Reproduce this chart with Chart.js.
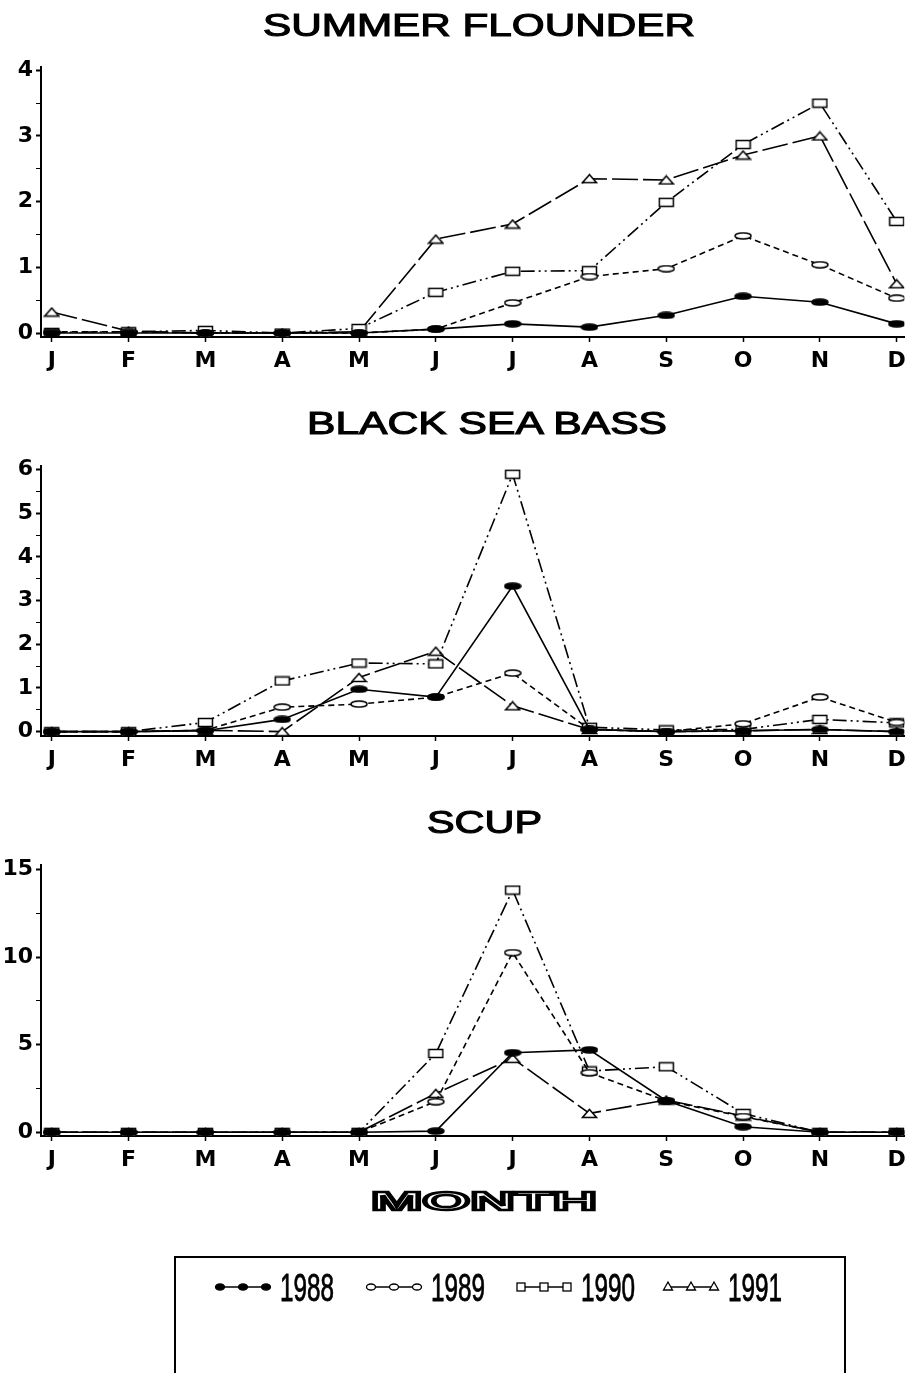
<!DOCTYPE html>
<html>
<head>
<meta charset="utf-8">
<title>Monthly catch by year</title>
<script src="https://cdn.jsdelivr.net/npm/chart.js@4.4.1/dist/chart.umd.min.js"></script>
<style>
  html, body { margin: 0; padding: 0; background: #fff; }
  body { position: relative; width: 914px; height: 1373px; overflow: hidden; }
  .panel { position: absolute; left: 0; }
  #overlay { position: absolute; left: 0; top: 0; }
  .ttl { font-family: "Liberation Sans", Arial, sans-serif; font-size: 31px; fill: #000; stroke: #000; stroke-width: 1.1; }
  .axt { font-family: "Liberation Sans", Arial, sans-serif; font-size: 26px; font-weight: bold; fill: #fff; stroke: #000; stroke-width: 2.4; }
  .yr { font-family: "Liberation Sans Narrow", "Liberation Sans", Arial, sans-serif; font-size: 39px; fill: #000; stroke: #000; stroke-width: 0.8; }
</style>
</head>
<body>
<canvas id="c1" class="panel" width="914" height="327" style="top:50px"></canvas>
<canvas id="c2" class="panel" width="914" height="336" style="top:440px"></canvas>
<canvas id="c3" class="panel" width="914" height="336" style="top:840px"></canvas>
<svg id="overlay" width="914" height="1373">
  <text class="ttl" x="263" y="36" textLength="432" lengthAdjust="spacingAndGlyphs">SUMMER FLOUNDER</text>
  <text class="ttl" x="307" y="434" textLength="360" lengthAdjust="spacingAndGlyphs">BLACK SEA BASS</text>
  <text class="ttl" x="427" y="833" textLength="115" lengthAdjust="spacingAndGlyphs">SCUP</text>
  <text class="axt" x="371" y="1210" textLength="226" lengthAdjust="spacingAndGlyphs">MONTH</text>
  <rect x="175" y="1257" width="670" height="150" fill="none" stroke="#000" stroke-width="2"/>
  <g id="legend"></g>
</svg>

<script>
// months on the x axis, one series per year
const months = ["J", "F", "M", "A", "M", "J", "J", "A", "S", "O", "N", "D"];
const years = ["1988", "1989", "1990", "1991"];

// summer flounder
const flounder88 = [0, 0, 0, 0, 0, 0.06, 0.14, 0.09, 0.27, 0.56, 0.47, 0.14];
const flounder89 = [0.02, 0.02, 0, 0, 0, 0.06, 0.46, 0.86, 0.98, 1.48, 1.04, 0.53];
const flounder90 = [0.01, 0.02, 0.04, 0, 0.07, 0.62, 0.94, 0.95, 1.99, 2.87, 3.5, 1.7];
const flounder91 = [0.32, 0.03, 0, 0, 0.02, 1.43, 1.66, 2.35, 2.33, 2.71, 3.0, 0.75];

// black sea bass
const bass88 = [0, 0, 0.02, 0.28, 0.97, 0.79, 3.33, 0.05, 0, 0.02, 0.05, 0];
const bass89 = [0, 0, 0.03, 0.56, 0.63, 0.79, 1.34, 0.05, 0, 0.18, 0.79, 0.21];
const bass90 = [0, 0, 0.21, 1.16, 1.57, 1.55, 5.89, 0.1, 0.04, 0.05, 0.28, 0.2];
const bass91 = [0, 0, 0.03, 0, 1.24, 1.84, 0.59, 0.05, 0, 0.02, 0.05, 0];

// scup
const scup88 = [0, 0, 0, 0, 0, 0.07, 4.54, 4.7, 1.8, 0.32, 0, 0];
const scup89 = [0, 0, 0, 0, 0, 1.75, 10.25, 3.4, 1.8, 0.9, 0, 0];
const scup90 = [0, 0, 0, 0, 0, 4.5, 13.82, 3.5, 3.74, 1.08, 0, 0];
const scup91 = [0, 0, 0, 0, 0, 2.22, 4.22, 1.08, 1.84, 0.93, 0, 0];

const dashes = [[], [6, 4], [14, 4, 2, 4, 2, 4], [26, 5]];

// little canvases used as point markers
function marker(kind, w, h) {
  const c = document.createElement("canvas");
  c.width = w; c.height = h;
  const g = c.getContext("2d");
  g.lineWidth = 1.5;
  g.strokeStyle = "#000";
  g.fillStyle = "#fff";
  g.beginPath();
  if (kind === "dot" || kind === "ring") {
    g.ellipse(w / 2, h / 2, w / 2 - 1, h / 2 - 1, 0, 0, Math.PI * 2);
    if (kind === "dot") g.fillStyle = "#000";
  } else if (kind === "box") {
    g.rect(1.5, 1.5, w - 3, h - 3);
  } else {
    g.moveTo(w / 2, 1.5);
    g.lineTo(w - 1.5, h - 1.5);
    g.lineTo(1.5, h - 1.5);
    g.closePath();
  }
  g.fill();
  g.stroke();
  return c;
}
const markers = [marker("dot", 18, 8), marker("ring", 18, 8), marker("box", 17, 11), marker("tri", 17, 11)];

const tickFont = { family: "DejaVu Sans", size: 22, weight: "bold" };

function makeChart(id, series, yMin, yMax, step, major, padTop) {
  return new Chart(document.getElementById(id), {
    type: "line",
    data: {
      datasets: series.map((vals, i) => ({
        label: years[i],
        data: vals.map((v, k) => ({ x: k, y: v })),
        borderColor: "#000",
        borderWidth: 1.6,
        borderDash: dashes[i],
        pointStyle: markers[i],
        pointRadius: 8,
        pointHoverRadius: 8,
        fill: false,
        tension: 0,
      })),
    },
    options: {
      responsive: false,
      animation: false,
      events: [],
      layout: { padding: { top: padTop, right: 2, bottom: 0, left: 0 } },
      plugins: { legend: { display: false }, tooltip: { enabled: false } },
      scales: {
        x: {
          type: "linear",
          min: -0.14,
          max: 11.1,
          afterFit: (s) => { s.height = 40; s.paddingLeft = 0; s.paddingRight = 0; },
          ticks: {
            stepSize: 1,
            includeBounds: false,
            autoSkip: false,
            maxRotation: 0,
            padding: 6,
            color: "#000",
            font: tickFont,
            callback: (v) => months[v],
          },
          grid: { drawOnChartArea: false, drawTicks: true, tickLength: 5, color: "#000", tickWidth: 1.5 },
          border: { color: "#000", width: 2 },
        },
        y: {
          min: yMin,
          max: yMax,
          afterFit: (s) => { s.width = 41; s.paddingTop = 0; s.paddingBottom = 0; },
          ticks: {
            stepSize: step,
            includeBounds: false,
            autoSkip: false,
            padding: 3,
            color: "#000",
            font: tickFont,
            callback: (v) => (Math.abs(v % major) < 1e-9 ? v : ""),
          },
          grid: {
            drawOnChartArea: false,
            drawTicks: true,
            tickLength: 5,
            color: "#000",
            tickWidth: (ctx) => (ctx.tick && Math.abs(ctx.tick.value % major) < 1e-9 ? 2 : 1),
          },
          border: { color: "#000", width: 2 },
        },
      },
    },
  });
}

makeChart("c1", [flounder88, flounder89, flounder90, flounder91], -0.06, 4.05, 0.5, 1, 17);
makeChart("c2", [bass88, bass89, bass90, bass91], -0.1, 6.08, 0.5, 1, 26);
makeChart("c3", [scup88, scup89, scup90, scup91], -0.21, 15.25, 2.5, 5, 25);

// legend row inside the box under the charts
const NS = "http://www.w3.org/2000/svg";
const leg = document.getElementById("legend");
const legX = [220, 371, 521, 668];
const legY = 1287;
function el(name, attrs) {
  const e = document.createElementNS(NS, name);
  for (const k in attrs) e.setAttribute(k, attrs[k]);
  leg.appendChild(e);
  return e;
}
years.forEach((yr, i) => {
  const x0 = legX[i];
  el("line", { x1: x0, y1: legY, x2: x0 + 46, y2: legY, stroke: "#000", "stroke-width": 1.5 });
  for (let k = 0; k < 3; k++) {
    const cx = x0 + k * 23;
    if (i < 2) {
      el("ellipse", { cx: cx, cy: legY, rx: 4.5, ry: 3, fill: i === 0 ? "#000" : "#fff", stroke: "#000", "stroke-width": 1.3 });
    } else if (i === 2) {
      el("rect", { x: cx - 4, y: legY - 4, width: 8, height: 8, fill: "#fff", stroke: "#000", "stroke-width": 1.3 });
    } else {
      el("polygon", { points: `${cx},${legY - 5} ${cx + 4.5},${legY + 3} ${cx - 4.5},${legY + 3}`, fill: "#fff", stroke: "#000", "stroke-width": 1.3 });
    }
  }
  const t = el("text", { class: "yr", x: x0 + 60, y: legY + 14, textLength: 54, lengthAdjust: "spacingAndGlyphs" });
  t.textContent = yr;
});
</script>
</body>
</html>
